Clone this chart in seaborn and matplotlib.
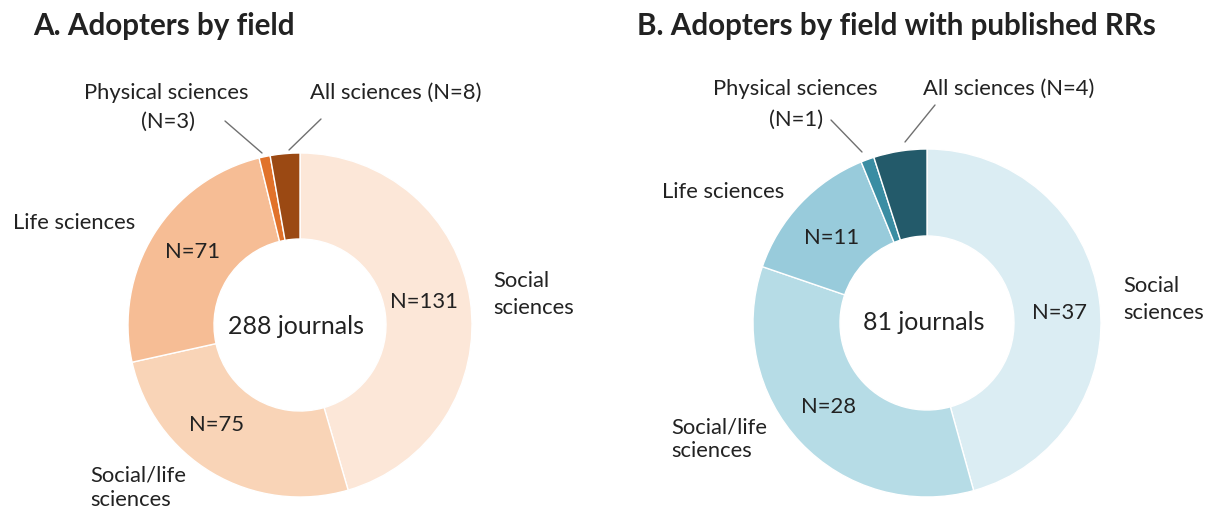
import numpy as np
import seaborn as sns
import matplotlib.pyplot as plt

# data
fields = ["Social sciences", "Social/life sciences", "Life sciences", "Physical sciences", "All sciences"]
counts_a = [131, 75, 71, 3, 8]
counts_b = [37, 28, 11, 1, 4]
colors_a = ["#fce7d8", "#f9d4b7", "#f6bd95", "#e1722a", "#9b4913"]
colors_b = ["#dbedf3", "#b6dce6", "#98cbdb", "#3a8da3", "#235a6a"]
titles = ["A. Adopters by field", "B. Adopters by field with published RRs"]

W, H = 1212, 508
LBL = 15.8
sns.set_theme(style="white")
plt.rcParams["font.family"] = ["Lato", "DejaVu Sans"]

fig = plt.figure(figsize=(W / 100, H / 100), dpi=100)


def fxy(px, py):
    return px / W, 1 - py / H


def donut(counts, colors, cx, cy, r):
    ax = fig.add_axes([(cx - r) / W, 1 - (cy + r) / H, 2 * r / W, 2 * r / H])
    ax.pie(counts, colors=colors, startangle=90, counterclock=False, radius=1,
           wedgeprops=dict(width=0.5, edgecolor="white", linewidth=1))
    ax.set_xlim(-1, 1)
    ax.set_ylim(-1, 1)
    ax.axis("off")
    return ax


def label(px, py, s, size=LBL, ha="center", **kw):
    x, y = fxy(px, py)
    fig.text(x, y, s, fontsize=size, ha=ha, va="center", color="#222222", **kw)


def leader(p0, p1):
    x0, y0 = fxy(*p0)
    x1, y1 = fxy(*p1)
    fig.add_artist(plt.Line2D([x0, x1], [y0, y1], color="#707070", lw=1))


# panel A
donut(counts_a, colors_a, 300, 325, 172)
label(33, 26, titles[0], size=21.3, ha="left", fontweight="bold")
label(166, 93, "Physical sciences")
label(168, 122, f"(N={counts_a[3]})")
label(396, 93, f"All sciences (N={counts_a[4]})")
leader((225, 121), (262, 153))
leader((321, 119), (289, 150))
label(13, 223, "Life sciences", ha="left")
label(193, 252, f"N={counts_a[2]}")
label(424, 302, f"N={counts_a[0]}")
label(493, 281, "Social", ha="left")
label(493, 308, "sciences", ha="left")
label(296, 327, f"{sum(counts_a)} journals", size=18)
label(217, 425, f"N={counts_a[1]}")
label(90, 475, "Social/life", ha="left")
label(90, 500, "sciences", ha="left")

# panel B
donut(counts_b, colors_b, 927, 323, 174)
label(637, 26, titles[1], size=21.3, ha="left", fontweight="bold")
label(795, 89, "Physical sciences")
label(796, 120, f"(N={counts_b[3]})")
label(1009, 89, f"All sciences (N={counts_b[4]})")
leader((831, 120), (862, 152))
leader((935, 105), (905, 142))
label(662, 192, "Life sciences", ha="left")
label(832, 238, f"N={counts_b[2]}")
label(1059, 313, f"N={counts_b[0]}")
label(1123, 286, "Social", ha="left")
label(1123, 313, "sciences", ha="left")
label(924, 323, f"{sum(counts_b)} journals", size=18)
label(829, 407, f"N={counts_b[1]}")
label(671, 427, "Social/life", ha="left")
label(671, 451, "sciences", ha="left")

fig.savefig("out.png", dpi=100)
plt.close(fig)
